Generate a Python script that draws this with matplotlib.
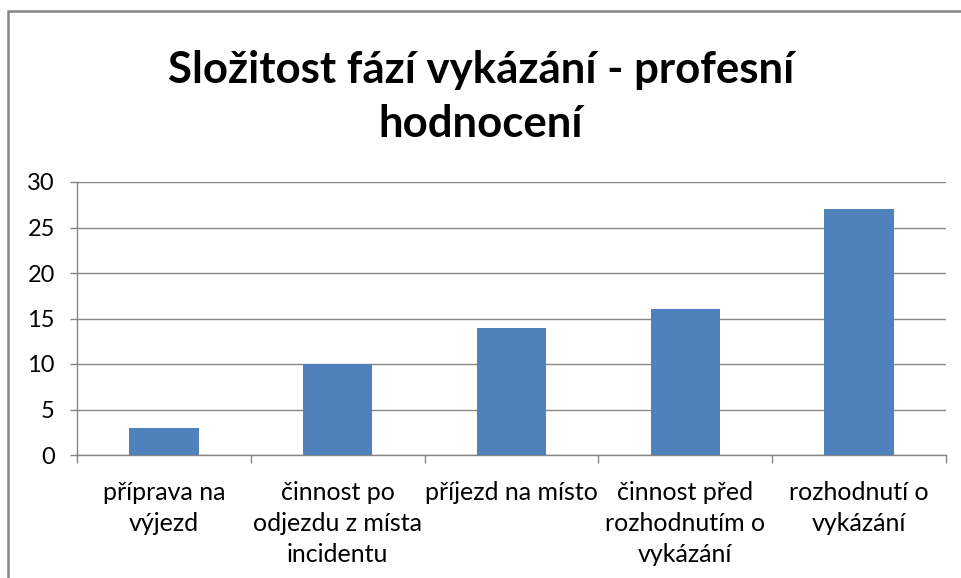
import matplotlib.pyplot as plt
from matplotlib.patches import Rectangle
import numpy as np

plt.rcParams['font.family'] = ['Lato', 'DejaVu Sans']

categories = ["příprava na\nvýjezd", "činnost po\nodjezdu z místa\nincidentu",
              "příjezd na místo", "činnost před\nrozhodnutím o\nvykázání",
              "rozhodnutí o\nvykázání"]
values = [3, 10, 14, 16, 27]
yticks = [0, 5, 10, 15, 20, 25, 30]

grey = '#868686'
fig = plt.figure(figsize=(9.62, 5.78), dpi=100)
# outer chart frame (right and bottom edges fall outside the picture)
fig.patches.append(Rectangle((8 / 962, -0.1), 1.2, 1.1 - 11 / 578,
                             transform=fig.transFigure, fill=False,
                             edgecolor=grey, linewidth=1.8))

ax = fig.add_axes([77 / 962, 1 - 455 / 578, (946 - 77) / 962, (455 - 182) / 578])
x = np.arange(len(values))
ax.bar(x, values, width=0.4, color='#4F81BD', zorder=3)

ax.set_xlim(-0.5, len(values) - 0.5)
ax.set_ylim(0, 30)
ax.set_yticks(yticks)
ax.yaxis.grid(True, color=grey, linewidth=1.0)
ax.set_axisbelow(True)

ax.set_xticks(x)
ax.set_xticklabels(categories, fontsize=18, linespacing=1.4)
ax.tick_params(axis='x', length=0, pad=19)
ax.set_xticks(np.arange(len(values) + 1) - 0.5, minor=True)
ax.tick_params(axis='x', which='minor', length=6, color=grey, width=1.0)
ax.tick_params(axis='y', labelsize=17, length=5, color=grey, width=1.0, pad=11)

for s in ['top', 'right']:
    ax.spines[s].set_visible(False)
for s in ['left', 'bottom']:
    ax.spines[s].set_color(grey)
    ax.spines[s].set_linewidth(1.0)

fig.text(0.5, 1 - 97 / 578, "Složitost fází vykázání - profesní\nhodnocení",
         ha='center', va='center', fontsize=31.5, fontweight='bold',
         linespacing=1.42)

fig.savefig('out.png', dpi=100)
